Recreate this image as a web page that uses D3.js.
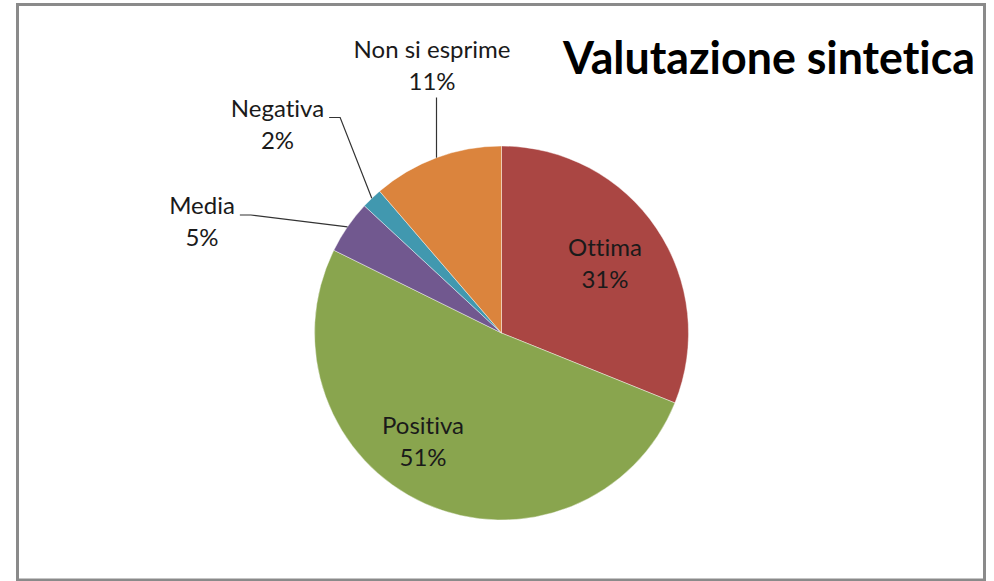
<!DOCTYPE html>
<html>
<head>
<meta charset="utf-8">
<style>
  body { margin: 0; background: #fff; }
  svg { display: block; }
  text { font-family: Lato, "Open Sans", sans-serif; fill: #1a1a1a; font-variant-ligatures: none; font-feature-settings: "liga" 0, "dlig" 0; }
</style>
</head>
<body>
<svg width="994" height="581"></svg>

<script src="https://d3js.org/d3.v7.min.js"></script>
<script>
  // data (slice shares, in percent)
  const categories = ["Ottima", "Positiva", "Media", "Negativa", "Non si esprime"];
  const shares = [31.1, 51.2, 4.6, 1.8, 11.3];
  const colors = ["#AA4643", "#89A54E", "#71588F", "#4198AF", "#DB843D"];
  const title = "Valutazione sintetica";

  // where each label sits, relative to the pie centre (layout only)
  const labelPos = {
    "Ottima":         { dx: 103.5, dy: -77,    leader: null },
    "Positiva":       { dx: -78.5, dy: 101,    leader: null },
    "Media":          { dx: -299.5, dy: -119,  leader: "side" },
    "Negativa":       { dx: -224, dy: -216.5,  leader: "side" },
    "Non si esprime": { dx: -69.5, dy: -275.5, leader: "up" }
  };

  const svg = d3.select("svg"),
        width = +svg.attr("width"),
        height = +svg.attr("height");

  // white background + grey frame
  svg.append("rect").attr("width", width).attr("height", height).attr("fill", "#fff");
  svg.append("rect")
    .attr("x", 17.5).attr("y", 4.5)
    .attr("width", 967).attr("height", 575.5)
    .attr("fill", "none")
    .attr("stroke", "#8a8a8a")
    .attr("stroke-width", 3);

  const cx = 501.5, cy = 333, r = 187;
  const lineH = 32;

  const data = categories.map((c, i) => ({ name: c, value: shares[i], color: colors[i] }));

  const pie = d3.pie().sort(null).value(d => d.value);
  const arc = d3.arc().innerRadius(0).outerRadius(r);
  const arcs = pie(data);

  const g = svg.append("g").attr("transform", `translate(${cx},${cy})`);

  // slices
  g.selectAll("path.slice")
    .data(arcs)
    .join("path")
    .attr("class", "slice")
    .attr("d", arc)
    .attr("fill", d => d.data.color)
    .attr("stroke", "#fff")
    .attr("stroke-width", 0.6)
    .attr("stroke-opacity", 0.7);

  // labels + leader lines
  arcs.forEach(a => {
    const p = labelPos[a.data.name];
    const t = g.append("text")
      .attr("text-anchor", "middle")
      .attr("font-size", 24);
    t.append("tspan").attr("x", p.dx).attr("y", p.dy).text(a.data.name);
    t.append("tspan").attr("x", p.dx).attr("y", p.dy + lineH).text(Math.round(a.data.value) + "%");

    if (!p.leader) return;
    const mid = (a.startAngle + a.endAngle) / 2;
    const ex = r * Math.sin(mid), ey = -r * Math.cos(mid);
    let pts;
    if (p.leader === "up") {
      pts = [[ex, ey], [ex, p.dy + lineH + 8]];
    } else {
      const w = t.select("tspan").node().getComputedTextLength();
      const sx = p.dx + w / 2 + 5;
      pts = [[sx, p.dy + 1], [sx + 11, p.dy + 1], [ex, ey]];
    }
    g.append("path")
      .attr("d", d3.line()(pts))
      .attr("fill", "none")
      .attr("stroke", "#333")
      .attr("stroke-width", 1.2);
  });

  // title
  svg.append("text")
    .attr("x", 563).attr("y", 74)
    .attr("font-size", 46)
    .attr("font-weight", "bold")
    .attr("textLength", 412)
    .attr("lengthAdjust", "spacingAndGlyphs")
    .style("fill", "#000")
    .text(title);
</script>
</body>
</html>
